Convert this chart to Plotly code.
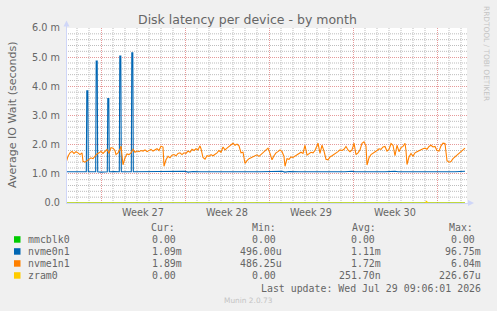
import pandas as pd
import plotly.graph_objects as go

# ---------------- data ----------------
start_time = "2026-06-26 02:00"
end_time = "2026-07-29 12:00"

series_names = ["mmcblk0", "nvme0n1", "nvme1n1", "zram0"]
series_colors = ["#00CC00", "#0066B3", "#FF8000", "#FFCC00"]

# hours since start_time, values in milliseconds
mmcblk0_hours = [0, 798]
mmcblk0_ms = [0.0, 0.0]

nvme0n1_hours = [0, 10, 24, 28, 36, 40.6, 41.6, 43.6, 44.6, 50, 59.4, 60.4, 62.4, 63.4, 70,
                 82.6, 83.6, 85.6, 86.6, 96, 106.6, 107.6, 109.6, 110.6, 120,
                 130.6, 131.6, 133.6, 134.6, 148, 168, 188, 208, 238, 244, 254, 268, 298, 304,
                 328, 358, 364, 388, 432, 438, 446, 468, 498, 526, 532, 558, 572, 578, 598,
                 632, 638, 658, 664, 688, 718, 724, 748, 772, 778, 798]
nvme0n1_ms = [1.07, 1.07, 1.06, 1.08, 1.07, 1.07, 3.85, 3.85, 1.07, 1.07, 1.07, 4.87, 4.87, 1.07, 1.06,
              1.07, 3.58, 3.58, 1.07, 1.08, 1.07, 5.04, 5.04, 1.07, 1.07,
              1.07, 5.15, 5.15, 1.07, 1.07, 1.08, 1.07, 1.07, 1.09, 1.06, 1.08, 1.07, 1.09, 1.07,
              1.07, 1.05, 1.07, 1.07, 1.09, 1.06, 1.08, 1.07, 1.07, 1.05, 1.07, 1.07, 1.09, 1.07, 1.07,
              1.05, 1.07, 1.09, 1.07, 1.07, 1.05, 1.07, 1.07, 1.05, 1.07, 1.09]

nvme1n1_hours = [0, 4, 8, 12, 16, 20, 24, 28, 32, 34, 38, 42, 46, 50, 54, 58, 62, 66, 70, 74,
                 78, 82, 86, 90, 94, 98, 100, 104, 108, 110, 114, 118, 122, 126, 130, 134, 138,
                 142, 146, 150, 154, 158, 162, 166, 170, 174, 178, 182, 186, 190, 194, 196, 200,
                 204, 208, 212, 216, 220, 224, 228, 232, 236, 240, 244, 248, 252, 256, 260, 264,
                 268, 270, 274, 278, 282, 286, 290, 294, 298, 302, 306, 310, 314, 318, 322, 326,
                 330, 334, 338, 342, 346, 350, 354, 358, 362, 366, 370, 374, 378, 382, 386, 390,
                 394, 398, 402, 404, 408, 412, 416, 420, 424, 428, 432, 436, 438, 442, 446, 450,
                 454, 458, 462, 466, 470, 474, 478, 482, 486, 490, 494, 498, 502, 504, 508, 512,
                 516, 520, 524, 528, 532, 536, 540, 544, 548, 552, 556, 560, 564, 568, 572, 576,
                 580, 584, 588, 592, 596, 600, 602, 606, 610, 614, 618, 622, 626, 630, 634, 638,
                 642, 646, 650, 654, 658, 662, 666, 670, 674, 678, 680, 682, 686, 690, 694, 698,
                 702, 706, 710, 714, 718, 722, 726, 730, 734, 738, 742, 746, 750, 754, 758, 760,
                 762, 766, 770, 774, 778, 782, 786, 790, 794, 798]
nvme1n1_ms = [1.38, 1.60, 1.72, 1.77, 1.70, 1.76, 1.72, 1.66, 1.72, 1.43, 1.40, 1.46, 1.52, 1.55, 1.52,
              1.60, 1.68, 1.72, 1.77, 1.70, 1.76, 1.84, 1.70, 1.90, 1.88, 1.80, 1.66, 1.72, 1.84, 1.95,
              1.31, 1.55, 1.68, 1.66, 1.72, 1.84, 1.74, 1.78, 1.76, 1.80, 1.78, 1.82, 1.76, 1.80, 1.84,
              1.78, 1.82, 1.86, 1.80, 1.95, 1.92, 1.26, 1.48, 1.60, 1.55, 1.64, 1.66, 1.62, 1.70, 1.72,
              1.66, 1.72, 1.70, 1.78, 1.74, 1.84, 1.80, 1.86, 1.82, 1.96, 1.86, 1.56, 1.50, 1.62, 1.60,
              1.66, 1.62, 1.66, 1.72, 1.80, 1.74, 1.92, 1.82, 1.88, 1.94, 2.02, 2.05, 1.98, 2.02, 1.96,
              1.72, 1.74, 1.36, 1.45, 1.52, 1.55, 1.58, 1.62, 1.65, 1.60, 1.66, 1.72, 1.76, 1.84, 1.88,
              1.70, 1.48, 1.62, 1.72, 1.76, 1.82, 1.76, 1.60, 1.26, 1.52, 1.50, 1.58, 1.56, 1.60, 1.66,
              1.68, 1.74, 1.70, 1.98, 1.64, 1.70, 1.74, 1.72, 1.80, 1.96, 2.05, 1.70, 1.98, 1.78, 1.50,
              1.48, 1.58, 1.62, 1.66, 1.70, 1.76, 1.82, 1.80, 1.84, 1.94, 1.82, 1.76, 1.82, 2.05, 1.66,
              1.72, 1.82, 2.05, 2.10, 1.95, 1.30, 1.55, 1.66, 1.70, 1.76, 1.80, 1.86, 1.84, 1.92, 1.94,
              1.78, 1.84, 2.04, 1.98, 1.62, 1.98, 1.76, 1.90, 1.94, 2.05, 1.80, 1.32, 1.58, 1.70, 1.60,
              1.72, 1.76, 1.80, 1.82, 1.86, 1.88, 1.84, 1.94, 1.98, 1.92, 1.94, 1.80, 1.78, 1.96, 2.05,
              2.04, 1.60, 1.45, 1.40, 1.42, 1.52, 1.58, 1.65, 1.70, 1.76, 1.80, 1.88]

zram0_hours = [0, 718, 721, 724, 798]
zram0_ms = [0.0, 0.0, 0.06, 0.0, 0.0]

week_starts = ["2026-06-29", "2026-07-06", "2026-07-13", "2026-07-20", "2026-07-27"]
week_labels = ["Week 27", "Week 28", "Week 29", "Week 30"]

y_ticks = [0, 1, 2, 3, 4, 5, 6]
y_tick_labels = ["0.0", "1.0 m", "2.0 m", "3.0 m", "4.0 m", "5.0 m", "6.0 m"]

legend_cur = [("0.00", ""), ("1.09", "m"), ("1.89", "m"), ("0.00", "")]
legend_min = [("0.00", ""), ("496.00", "u"), ("486.25", "u"), ("0.00", "")]
legend_avg = [("0.00", ""), ("1.11", "m"), ("1.72", "m"), ("251.70", "n")]
legend_max = [("0.00", ""), ("96.75", "m"), ("6.04", "m"), ("226.67", "u")]

title_text = "Disk latency per device - by month"
y_title = "Average IO Wait (seconds)"
last_update = "Last update: Wed Jul 29 09:06:01 2026"
munin_version = "Munin 2.0.73"
watermark = "RRDTOOL / TOBI OETIKER"

# ---------------- figure ----------------
W, H = 497, 311
L, R, T, B = 66, 467, 28, 203


def fx(px):
    return (px - L) / (R - L)


def fy(py):
    return (B - py) / (B - T)


t0 = pd.Timestamp(start_time)


def times(hours):
    return [t0 + pd.Timedelta(hours=h) for h in hours]


all_hours = [mmcblk0_hours, nvme0n1_hours, nvme1n1_hours, zram0_hours]
all_vals = [mmcblk0_ms, nvme0n1_ms, nvme1n1_ms, zram0_ms]

fig = go.Figure()
for name, color, hrs, vals in zip(series_names, series_colors, all_hours, all_vals):
    fig.add_trace(go.Scatter(x=times(hrs), y=vals, mode="lines", name=name,
                             line=dict(color=color, width=1.1), hoverinfo="skip"))

MAJOR = "#E69A9A"
MINOR = "#BDBDBD"
DOT = "1px,1px"
FONT = "DejaVu Sans"
MONO = "DejaVu Sans Mono"
FC = "#666666"
AXC = "#CFD6F8"

fig.update_xaxes(type="date", range=[start_time, end_time], tickvals=week_starts,
                 showticklabels=False, ticks="", showgrid=True, gridcolor=MAJOR,
                 griddash=DOT, gridwidth=1, zeroline=False, showline=False,
                 fixedrange=True)
fig.update_yaxes(range=[0, 6], tickvals=y_ticks, ticktext=y_tick_labels, ticks="",
                 showgrid=True, gridcolor=MAJOR, griddash=DOT, gridwidth=1,
                 zeroline=False, showline=False, ticklabelstandoff=5,
                 tickfont=dict(family=FONT, size=9.7, color=FC),
                 fixedrange=True)

shapes = []
# minor grid: every midnight (x) and every 0.2 m (y), drawn beneath the major grid
day_grid = [d for d in pd.date_range("2026-06-27", "2026-07-29", freq="D")
            if d.strftime("%Y-%m-%d") not in week_starts]
y_minor = [v / 5 for v in range(0, 31) if v % 5 != 0]
for d in day_grid:
    shapes.append(dict(type="line", xref="x", yref="paper", x0=d, x1=d, y0=0, y1=1,
                       line=dict(color=MINOR, width=1, dash=DOT), layer="below"))
for v in y_minor:
    shapes.append(dict(type="line", xref="paper", yref="y", x0=0, x1=1, y0=v, y1=v,
                       line=dict(color=MINOR, width=1, dash=DOT), layer="below"))

ann = []
# title
ann.append(dict(text=title_text, x=fx(247.5), y=fy(19), xref="paper", yref="paper",
                xanchor="center", yanchor="middle", showarrow=False,
                font=dict(family=FONT, size=12.5, color=FC)))
# y title
ann.append(dict(text=y_title, x=fx(12), y=fy(115), xref="paper", yref="paper",
                xanchor="center", yanchor="middle", showarrow=False, textangle=-90,
                font=dict(family=FONT, size=11.1, color=FC)))
# watermark
ann.append(dict(text=watermark, x=fx(487), y=fy(53), xref="paper", yref="paper",
                xanchor="center", yanchor="middle", showarrow=False, textangle=90,
                font=dict(family=FONT, size=7.4, color="#C4C4C4")))
# week labels
for ws, lab in zip(week_starts, week_labels):
    xm = pd.Timestamp(ws) + pd.Timedelta(hours=84)
    ann.append(dict(text=lab, x=xm, y=fy(212.5), xref="x", yref="paper",
                    xanchor="center", yanchor="middle", showarrow=False,
                    font=dict(family=FONT, size=9.7, color=FC)))

# legend
row_y = [239.5, 251.5, 263.5, 275.5]
header_y = 227
cw = 5.96
mono = dict(family=MONO, size=9.9, color=FC)
for lab, xl in zip(["Cur:", "Min:", "Avg:", "Max:"], [149, 250, 350, 447]):
    ann.append(dict(text=lab, x=fx(xl), y=fy(header_y), xref="paper", yref="paper",
                    xanchor="left", yanchor="middle", showarrow=False, font=mono))
for i, (name, color) in enumerate(zip(series_names, series_colors)):
    yy = row_y[i]
    shapes.append(dict(type="rect", xref="paper", yref="paper",
                       x0=fx(14), x1=fx(20.5), y0=fy(yy - 3.3), y1=fy(yy + 3.2),
                       fillcolor=color, line=dict(width=0)))
    ann.append(dict(text=name, x=fx(26), y=fy(yy), xref="paper", yref="paper",
                    xanchor="left", yanchor="middle", showarrow=False, font=mono))
    for col, rx in zip([legend_cur, legend_min, legend_avg, legend_max], [178.5, 278.5, 377.5, 477.5]):
        num, suf = col[i]
        txt = num + (suf if suf else "\u00a0")
        ann.append(dict(text=txt, x=fx(rx + cw), y=fy(yy), xref="paper", yref="paper",
                        xanchor="right", yanchor="middle", showarrow=False, font=mono))

ann.append(dict(text=last_update, x=fx(482.5), y=fy(288), xref="paper", yref="paper",
                xanchor="right", yanchor="middle", showarrow=False, font=mono))
ann.append(dict(text=munin_version, x=fx(248), y=fy(300), xref="paper", yref="paper",
                xanchor="center", yanchor="middle", showarrow=False,
                font=dict(family=FONT, size=7.4, color="#C4C4C4")))

# axis lines with arrows
shapes.append(dict(type="line", xref="paper", yref="paper", x0=fx(66.5), x1=fx(66.5),
                   y0=fy(203), y1=fy(24), line=dict(color=AXC, width=1), layer="above"))
shapes.append(dict(type="line", xref="paper", yref="paper", x0=fx(66), x1=fx(470),
                   y0=fy(203.5), y1=fy(203.5), line=dict(color=AXC, width=1), layer="below"))
shapes.append(dict(type="path", xref="paper", yref="paper",
                   path=f"M {fx(66.5)} {fy(20.5)} L {fx(63.5)} {fy(26.5)} L {fx(69.5)} {fy(26.5)} Z",
                   fillcolor=AXC, line=dict(width=0)))
shapes.append(dict(type="path", xref="paper", yref="paper",
                   path=f"M {fx(474)} {fy(203)} L {fx(468)} {fy(200)} L {fx(468)} {fy(206)} Z",
                   fillcolor=AXC, line=dict(width=0)))

fig.update_layout(width=W, height=H, margin=dict(l=L, r=W - R, t=T, b=H - B),
                  paper_bgcolor="#F0F0F0", plot_bgcolor="#FFFFFF", showlegend=False,
                  font=dict(family=FONT, color=FC, size=9.7), hovermode=False,
                  annotations=ann, shapes=shapes)

fig.write_html("out.html", config={"displayModeBar": False})
